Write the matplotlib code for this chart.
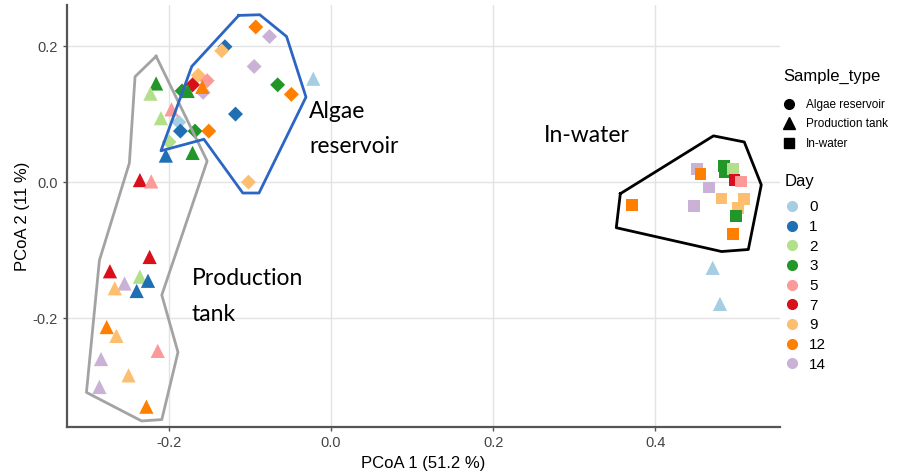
import matplotlib.pyplot as plt
from matplotlib.lines import Line2D

plt.rcParams["font.family"] = ["Liberation Sans", "DejaVu Sans"]

# ===============================
# 1. Data
# ===============================
days = [0, 1, 2, 3, 5, 7, 9, 12, 14]
day_colors = ["#A6CEE3", "#1F6FB4", "#B2DF8A", "#23962A", "#FB9A99",
              "#D9101C", "#FDBF6F", "#FF7F00", "#CAB2D6"]

# Algae reservoir
algae_x = [-0.093, -0.076, -0.131, -0.135, -0.095, -0.164, -0.153, -0.171, -0.158,
           -0.184, -0.066, -0.049, -0.118, -0.188, -0.186, -0.168, -0.151, -0.200, -0.102]
algae_y = [0.228, 0.214, 0.199, 0.193, 0.170, 0.157, 0.149, 0.143, 0.132,
           0.134, 0.143, 0.129, 0.100, 0.088, 0.075, 0.075, 0.075, 0.059, 0.000]
algae_day = [12, 14, 1, 9, 14, 9, 5, 7, 14,
             3, 3, 12, 1, 0, 1, 3, 12, 2, 9]

# Production tank
tank_x = [-0.159, -0.177, -0.022, -0.216, -0.223, -0.197, -0.210, -0.204, -0.171,
          -0.236, -0.222, -0.224, -0.273, -0.236, -0.226, -0.255, -0.267, -0.240,
          -0.277, -0.265, -0.214, -0.284, -0.250, -0.286, -0.228, 0.471, 0.480]
tank_y = [0.140, 0.134, 0.152, 0.145, 0.130, 0.107, 0.094, 0.039, 0.043,
          0.003, 0.001, -0.110, -0.131, -0.139, -0.145, -0.149, -0.156, -0.160,
          -0.213, -0.226, -0.248, -0.260, -0.284, -0.301, -0.330, -0.126, -0.179]
tank_day = [12, 3, 0, 3, 2, 5, 2, 1, 3,
            7, 5, 7, 7, 2, 1, 14, 9, 1,
            12, 9, 5, 14, 9, 14, 12, 0, 0]

# In-water
water_x = [0.452, 0.456, 0.485, 0.486, 0.496, 0.498, 0.506, 0.466, 0.482,
           0.510, 0.502, 0.448, 0.371, 0.500, 0.496]
water_y = [0.019, 0.012, 0.024, 0.015, 0.019, 0.003, 0.001, -0.008, -0.024,
           -0.025, -0.038, -0.035, -0.034, -0.050, -0.076]
water_day = [14, 12, 3, 3, 2, 7, 5, 14, 9,
             9, 9, 14, 12, 3, 12]

# Hand-drawn group outlines
tank_poly_x = [-0.216, -0.242, -0.249, -0.286, -0.302, -0.234, -0.209, -0.189, -0.209, -0.153, -0.216]
tank_poly_y = [0.185, 0.155, 0.028, -0.115, -0.309, -0.351, -0.349, -0.250, -0.166, 0.031, 0.185]
algae_poly_x = [-0.114, -0.088, -0.055, -0.031, -0.089, -0.109, -0.157, -0.210, -0.172, -0.114]
algae_poly_y = [0.245, 0.246, 0.214, 0.125, -0.016, -0.016, 0.063, 0.046, 0.170, 0.245]
water_poly_x = [0.357, 0.472, 0.510, 0.531, 0.515, 0.482, 0.352, 0.357]
water_poly_y = [-0.017, 0.068, 0.059, -0.004, -0.099, -0.102, -0.067, -0.017]

color_of = dict(zip(days, day_colors))

# ===============================
# 2. Figure
# ===============================
fig = plt.figure(figsize=(9.14, 4.74), dpi=100)
ax = fig.add_axes([0.0733, 0.099, 0.78, 0.89])

ax.scatter(algae_x, algae_y, c=[color_of[d] for d in algae_day], marker="D", s=58,
           linewidths=0, zorder=3)
ax.scatter(tank_x, tank_y, c=[color_of[d] for d in tank_day], marker="^", s=105,
           linewidths=0, zorder=3)
ax.scatter(water_x, water_y, c=[color_of[d] for d in water_day], marker="s", s=72,
           linewidths=0, zorder=3)

ax.plot(tank_poly_x, tank_poly_y, color="#A3A3A3", lw=2, zorder=4)
ax.plot(algae_poly_x, algae_poly_y, color="#2B66C4", lw=2, zorder=4)
ax.plot(water_poly_x, water_poly_y, color="black", lw=2, zorder=4)

label_font = dict(family=["Lato", "DejaVu Sans"], fontsize=16.5, color="black")
ax.text(-0.027, 0.104, "Algae", va="center", ha="left", **label_font)
ax.text(-0.027, 0.053, "reservoir", va="center", ha="left", **label_font)
ax.text(0.263, 0.069, "In-water", va="center", ha="left", **label_font)
ax.text(-0.172, -0.142, "Production", va="center", ha="left", **label_font)
ax.text(-0.172, -0.195, "tank", va="center", ha="left", **label_font)

# ===============================
# 3. Styling
# ===============================
ax.set_xlim(-0.326, 0.554)
ax.set_ylim(-0.360, 0.260)
ax.set_xticks([-0.2, 0.0, 0.2, 0.4])
ax.set_xticklabels(["-0.2", "0.0", "0.2", "0.4"])
ax.set_yticks([-0.2, 0.0, 0.2])
ax.set_yticklabels(["-0.2", "0.0", "0.2"])
ax.grid(True, color="#E3E3E3", lw=1)
ax.set_axisbelow(True)
for side in ["top", "right"]:
    ax.spines[side].set_visible(False)
for side in ["left", "bottom"]:
    ax.spines[side].set_color("#555555")
    ax.spines[side].set_linewidth(1.6)
ax.tick_params(colors="#555555", labelcolor="#444444", labelsize=10.5, length=3, width=1)
ax.set_xlabel("PCoA 1 (51.2 %)", fontsize=12, labelpad=4)
ax.set_ylabel("PCoA 2 (11 %)", fontsize=12, labelpad=2)

# ===============================
# 4. Legends
# ===============================
shape_handles = [
    Line2D([], [], marker="o", ls="", color="black", markersize=7),
    Line2D([], [], marker="^", ls="", color="black", markersize=9),
    Line2D([], [], marker="s", ls="", color="black", markersize=7),
]
leg1 = fig.legend(shape_handles, ["Algae reservoir", "Production tank", "In-water"],
                  title="Sample_type", loc="upper left", bbox_to_anchor=(0.852, 0.865),
                  frameon=False, fontsize=8.5, title_fontsize=12, handlelength=1,
                  handletextpad=0.9, labelspacing=0.62, borderaxespad=0)
leg1._legend_box.align = "left"
leg1._legend_box.sep = 11

day_handles = [Line2D([], [], marker="o", ls="", color=c, markersize=7) for c in day_colors]
leg2 = fig.legend(day_handles, [str(d) for d in days], title="Day", loc="upper left",
                  bbox_to_anchor=(0.852, 0.645), frameon=False, fontsize=11,
                  title_fontsize=12, handlelength=1, handletextpad=0.6,
                  labelspacing=0.37, borderaxespad=0)
leg2._legend_box.align = "left"
leg2._legend_box.sep = 8

fig.savefig("out.png", dpi=100)
